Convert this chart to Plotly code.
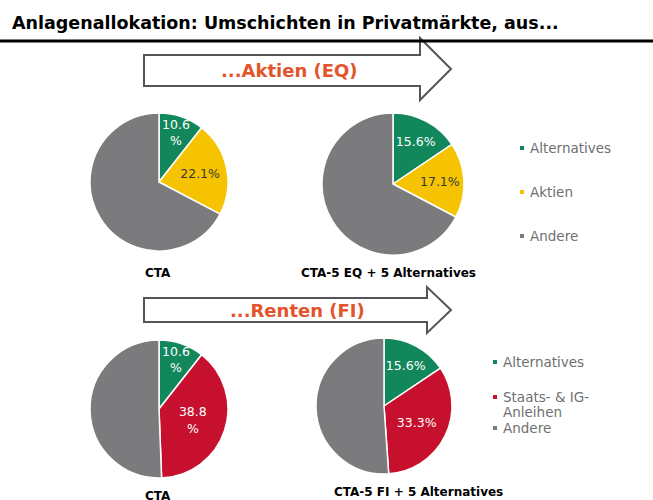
import plotly.graph_objects as go

W, H = 653, 500

# ---------------- data ----------------
title_text = "Anlagenallokation: Umschichten in Privatmärkte, aus..."
arrow_top_text = "...Aktien (EQ)"
arrow_bottom_text = "...Renten (FI)"

top_categories = ["Alternatives", "Aktien", "Andere"]
top_cta_values = [10.6, 22.1, 67.3]
top_new_values = [15.6, 17.1, 67.3]
top_cta_text = ["10.6<br>%", "22.1%", ""]
top_new_text = ["15.6%", "17.1%", ""]
top_cta_caption = "CTA"
top_new_caption = "CTA-5 EQ + 5 Alternatives"

bottom_categories = ["Alternatives", "Staats- & IG-Anleihen", "Andere"]
bottom_legend_lines = [["Alternatives"], ["Staats- & IG-", "Anleihen"], ["Andere"]]
bottom_cta_values = [10.6, 38.8, 50.6]
bottom_new_values = [15.6, 33.3, 51.1]
bottom_cta_text = ["10.6<br>%", "38.8<br>%", ""]
bottom_new_text = ["15.6%", "33.3%", ""]
bottom_cta_caption = "CTA"
bottom_new_caption = "CTA-5 FI + 5 Alternatives"

# ---------------- styles ----------------
GREEN = "#12875b"
YELLOW = "#f5c300"
GREY = "#7b7b7d"
RED = "#c6102d"
ORANGE = "#e2542b"
top_colors = [GREEN, YELLOW, GREY]
bottom_colors = [GREEN, RED, GREY]
top_text_colors = ["white", "#3a3a3a", "white"]
bottom_text_colors = ["white", "white", "white"]


def px(x):
    return x / W


def py(y):
    return 1 - y / H


def dom(cx, cy, r):
    return dict(x=[px(cx - r), px(cx + r)], y=[py(cy + r), py(cy - r)])


fig = go.Figure()


def add_pie(labels, values, text, colors, tcolors, domain):
    fig.add_trace(go.Pie(
        labels=labels, values=values, text=text,
        textinfo="text", textposition="inside",
        insidetextorientation="horizontal",
        sort=False, direction="clockwise", rotation=0,
        marker=dict(colors=colors, line=dict(color="white", width=1.5)),
        textfont=dict(family="DejaVu Sans", size=12.5, color=tcolors),
        domain=domain, hoverinfo="label+percent", showlegend=False,
    ))


add_pie(top_categories, top_cta_values, top_cta_text, top_colors, top_text_colors, dom(159, 182, 69))
add_pie(top_categories, top_new_values, top_new_text, top_colors, top_text_colors, dom(393, 184, 71))
add_pie(bottom_categories, bottom_cta_values, bottom_cta_text, bottom_colors, bottom_text_colors, dom(159, 409, 69))
add_pie(bottom_categories, bottom_new_values, bottom_new_text, bottom_colors, bottom_text_colors, dom(384, 406, 68))

shapes = []
annotations = []


def note(text, x, y, font, xanchor="center", yanchor="middle", align="center"):
    annotations.append(dict(text=text, x=px(x), y=py(y), xref="paper", yref="paper",
                            xanchor=xanchor, yanchor=yanchor, align=align, showarrow=False,
                            font=font))


# title + rule
note("<b>" + title_text + "</b>", 10, 23, dict(family="DejaVu Sans", size=17.5, color="black"),
     xanchor="left")
shapes.append(dict(type="line", xref="paper", yref="paper", x0=0, x1=1, y0=py(41), y1=py(41),
                   line=dict(color="black", width=3)))


def arrow_path(x0, xh, xt, yb0, yb1, yh0, yh1):
    ym = (yh0 + yh1) / 2
    pts = [(x0, yb0), (xh, yb0), (xh, yh0), (xt, ym), (xh, yh1), (xh, yb1), (x0, yb1)]
    return "M " + " L ".join(f"{px(a):.5f},{py(b):.5f}" for a, b in pts) + " Z"


shapes.append(dict(type="path", xref="paper", yref="paper",
                   path=arrow_path(144, 420, 451, 55, 86, 38, 100),
                   fillcolor="white", line=dict(color="#555555", width=2), layer="below"))
shapes.append(dict(type="path", xref="paper", yref="paper",
                   path=arrow_path(144, 427, 451, 298, 322, 287, 333),
                   fillcolor="white", line=dict(color="#555555", width=2), layer="below"))

arrow_font = dict(family="DejaVu Sans", size=18, color=ORANGE)
note("<b>" + arrow_top_text + "</b>", 289, 70, arrow_font)
note("<b>" + arrow_bottom_text + "</b>", 297, 310, arrow_font)

# captions
cap_font = dict(family="DejaVu Sans", size=12, color="black")
for txt, cx, cy in [(top_cta_caption, 158, 273), (top_new_caption, 388, 273),
                    (bottom_cta_caption, 158, 496), (bottom_new_caption, 418, 492)]:
    note("<b>" + txt + "</b>", cx, cy, cap_font)

# legends
leg_font = dict(family="DejaVu Sans", size=13.5, color="#6f6f6f")


def legend(items, colors, mx, ys, line_gap=15):
    for lines, c, y in zip(items, colors, ys):
        if isinstance(lines, str):
            lines = [lines]
        shapes.append(dict(type="rect", xref="paper", yref="paper",
                           x0=px(mx - 2), x1=px(mx + 2), y0=py(y + 2), y1=py(y - 2),
                           fillcolor=c, line=dict(width=0)))
        for i, ln in enumerate(lines):
            note(ln, mx + 6, y + i * line_gap, leg_font, xanchor="left", align="left")


legend(top_categories, top_colors, 522, [148, 192, 236])
legend(bottom_legend_lines, bottom_colors, 495, [362, 397, 428])

fig.update_layout(width=W, height=H, margin=dict(l=0, r=0, t=0, b=0),
                  paper_bgcolor="white", plot_bgcolor="white", showlegend=False,
                  shapes=shapes, annotations=annotations,
                  uniformtext=dict(minsize=12.5, mode="show"))

fig.write_html("out.html", config={"displayModeBar": False},
               post_script="document.body.style.margin='0';")
